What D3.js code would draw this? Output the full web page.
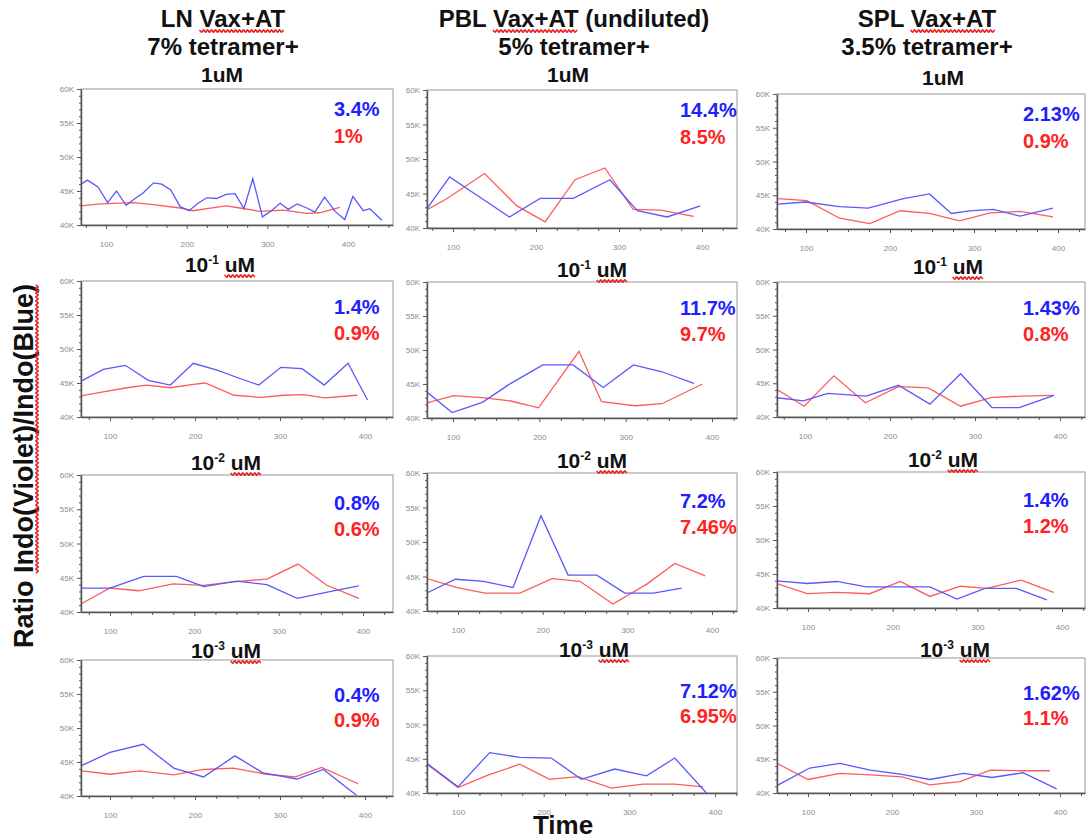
<!doctype html>
<html>
<head>
<meta charset="utf-8">
<script src="https://d3js.org/d3.v7.min.js"></script>
<style>
body{ margin:0; background:#fff; }
.ttl{ font-family: Arial, "Liberation Sans", sans-serif; font-weight:bold; fill:#111; }
.pct{ font-family: Arial, "Liberation Sans", sans-serif; font-weight:bold; font-size:20px; }
.axis text{ font-family: Arial, "Liberation Sans", sans-serif; font-size:8px; fill:#8a8a8a; }
.axis path, .axis line{ stroke:#555; }
</style>
</head>
<body>
<svg width="1091" height="840"></svg>
<script>
// ---- data (time, ratio in K) ----
var colTitles = ["LN Vax+AT", "PBL Vax+AT (undiluted)", "SPL Vax+AT"];
var colSubtitles = ["7% tetramer+", "5% tetramer+", "3.5% tetramer+"];
var doseExp = [0, -1, -2, -3];
var blueLabels = [["3.4%","14.4%","2.13%"],["1.4%","11.7%","1.43%"],["0.8%","7.2%","1.4%"],["0.4%","7.12%","1.62%"]];
var redLabels  = [["1%","8.5%","0.9%"],["0.9%","9.7%","0.8%"],["0.6%","7.46%","1.2%"],["0.9%","6.95%","1.1%"]];
var xTickValues = [100, 200, 300, 400];
var yTickValues = [40, 45, 50, 55, 60];

var ln_e0_blue = [[68,45.9],[77,46.6],[90,45.6],[102,43.3],[113,45.0],[125,42.9],[136,43.9],[146,44.7],[159,46.2],[169,46.0],[180,45.2],[192,42.7],[203,42.1],[214,43.2],[225,44.0],[237,43.9],[249,44.5],[260,44.6],[271,42.4],[282,46.8],[294,41.2],[305,42.1],[316,43.2],[326,42.3],[337,43.1],[349,42.5],[359,41.9],[371,44.1],[384,42.0],[396,40.8],[406,44.2],[419,42.1],[427,42.4],[442,40.7]];
var ln_e0_red = [[68,42.8],[93,43.1],[134,43.3],[159,43.0],[192,42.5],[208,42.1],[225,42.4],[249,42.8],[266,42.5],[291,42.0],[320,42.2],[349,41.7],[365,41.8],[390,42.6]];
var pbl_e0_blue = [[68,42.7],[96,47.4],[132,44.5],[168,41.6],[205,44.3],[245,44.3],[289,47.0],[322,42.5],[358,41.6],[398,43.2]];
var pbl_e0_red = [[68,42.6],[92,44.2],[138,47.9],[177,43.2],[211,40.9],[247,47.0],[283,48.7],[317,42.7],[350,42.6],[390,41.7]];
var spl_e0_blue = [[67,43.7],[99,44.0],[140,43.3],[174,43.1],[216,44.5],[247,45.2],[273,42.3],[295,42.7],[323,42.9],[355,41.9],[394,43.1]];
var spl_e0_red = [[67,44.5],[101,44.2],[140,41.6],[176,40.8],[212,42.7],[247,42.3],[283,41.2],[319,42.4],[355,42.6],[394,41.8]];

var ln_e1_blue = [[65,45.2],[92,47.0],[118,47.6],[145,45.4],[171,44.7],[198,47.9],[226,46.9],[252,45.7],[275,44.7],[301,47.3],[326,47.1],[352,44.7],[380,47.9],[403,42.5]];
var ln_e1_red = [[65,43.1],[92,43.7],[120,44.3],[143,44.7],[171,44.3],[198,44.8],[212,45.0],[246,43.2],[277,42.9],[305,43.2],[328,43.3],[352,42.8],[391,43.2]];
var pbl_e1_blue = [[66,44.2],[99,40.8],[134,42.3],[167,45.1],[204,47.8],[239,47.8],[274,44.5],[309,47.8],[342,46.8],[379,45.1]];
var pbl_e1_red = [[66,42.1],[101,43.3],[134,43.0],[167,42.5],[199,41.5],[246,49.8],[272,42.4],[311,41.8],[342,42.1],[389,45.0]];
var spl_e1_blue = [[64,42.9],[98,42.4],[127,43.5],[172,43.1],[210,44.7],[247,41.9],[283,46.4],[320,41.4],[352,41.4],[393,43.2]];
var spl_e1_red = [[64,44.3],[99,41.6],[134,46.1],[171,42.1],[210,44.5],[245,44.3],[283,41.6],[320,42.9],[355,43.1],[393,43.2]];

var ln_e2_blue = [[66,43.5],[100,43.5],[140,45.2],[179,45.2],[211,43.7],[250,44.5],[286,44.0],[322,42.0],[365,43.1],[395,43.8]];
var ln_e2_red = [[66,41.2],[100,43.5],[134,43.1],[175,44.1],[211,43.9],[246,44.4],[286,44.8],[323,47.0],[357,43.9],[395,42.0]];
var pbl_e2_blue = [[63,42.6],[97,44.6],[130,44.3],[165,43.4],[198,53.8],[230,45.2],[264,45.2],[297,42.6],[331,42.6],[364,43.3]];
var pbl_e2_red = [[63,44.7],[99,43.4],[132,42.6],[173,42.6],[211,44.7],[244,44.3],[283,41.0],[323,43.9],[356,46.9],[392,45.1]];
var spl_e2_blue = [[63,44.0],[99,43.6],[134,43.9],[169,43.1],[209,43.1],[244,43.1],[276,41.3],[309,42.9],[346,42.9],[382,41.2]];
var spl_e2_red = [[63,43.6],[99,42.1],[134,42.3],[173,42.1],[209,43.9],[244,41.7],[280,43.2],[311,42.9],[352,44.1],[390,42.3]];

var ln_e3_blue = [[67,44.5],[100,46.4],[139,47.6],[175,44.1],[210,42.8],[247,45.9],[280,43.4],[320,42.5],[351,43.9],[390,40.1]];
var ln_e3_red = [[67,43.7],[100,43.2],[135,43.7],[175,43.1],[210,43.9],[245,44.1],[284,43.2],[318,42.8],[349,44.2],[392,41.8]];
var pbl_e3_blue = [[64,44.3],[100,40.9],[137,45.9],[172,45.2],[209,45.1],[244,42.0],[283,43.5],[320,42.5],[353,45.1],[390,40.0]];
var pbl_e3_red = [[64,44.2],[100,40.8],[135,42.6],[172,44.2],[207,42.0],[240,42.4],[279,40.7],[316,41.3],[353,41.3],[386,40.9]];
var spl_e3_blue = [[63,41.1],[102,43.7],[138,44.4],[174,43.4],[210,42.8],[245,42.0],[285,42.9],[319,42.3],[356,43.0],[396,40.6]];
var spl_e3_red = [[63,44.4],[100,42.0],[138,42.9],[174,42.7],[212,42.4],[245,41.2],[281,41.7],[317,43.4],[352,43.3],[388,43.3]];

var seriesGrid = [
  [[ln_e0_blue, ln_e0_red], [pbl_e0_blue, pbl_e0_red], [spl_e0_blue, spl_e0_red]],
  [[ln_e1_blue, ln_e1_red], [pbl_e1_blue, pbl_e1_red], [spl_e1_blue, spl_e1_red]],
  [[ln_e2_blue, ln_e2_red], [pbl_e2_blue, pbl_e2_red], [spl_e2_blue, spl_e2_red]],
  [[ln_e3_blue, ln_e3_red], [pbl_e3_blue, pbl_e3_red], [spl_e3_blue, spl_e3_red]]
];

// ---- layout (pasted panels are not all the same size) ----
var colLeft = [81, 427, 777], colRight = [393, 737, 1085];
var rowTop = [[89,90,94],[281,282,282],[475,473,472],[660,656,658]];
var rowBottom = [[225,228,229],[417,418,417],[612,611,608],[796,793,793]];
var tickPx = [[[106,348],[453,702],[806,1058]],
              [[110,365],[453,712],[805,1060]],
              [[110,363],[458,712],[808,1062]],
              [[110,365],[458,715],[808,1060]]];
var pctX = [334, 680, 1023];
var pctDy = [[27,54],[33,59],[35,61],[42,67]];
var doseCx = [[222,568,943],[220,592,948],[226,592,943],[226,594,955]];
var doseY = [[82,82,85],[272,277,274],[470,468,467],[658,657,657]];
var titleCx = [223, 574, 927];

var blueLine = "#5858ff", redLine = "#ff5a5a";
var bluePct = "#2020ff", redPct = "#ff2222";

var svg = d3.select("svg");

function wavy(g, x0, x1, y) {
  var pts = [], i = 0;
  for (var x = x0; x <= x1; x += 2, i++) pts.push([x, y + (i % 2 ? 1.2 : -1.2)]);
  g.append("path")
    .attr("d", d3.line().curve(d3.curveCardinal)(pts))
    .attr("fill", "none").attr("stroke", "#e82222").attr("stroke-width", 1.6);
}

// column headers
colTitles.forEach(function(t, c) {
  var t1 = svg.append("text").attr("class", "ttl").attr("font-size", "24px")
    .attr("text-anchor", "middle").attr("x", titleCx[c]).attr("y", 27).text(t);
  var n = t1.node(), i0 = t.indexOf("Vax+AT");
  wavy(svg, n.getStartPositionOfChar(i0).x, n.getEndPositionOfChar(i0 + 5).x, 31);
  svg.append("text").attr("class", "ttl").attr("font-size", "24px")
    .attr("text-anchor", "middle").attr("x", titleCx[c]).attr("y", 55).text(colSubtitles[c]);
});

// panels
seriesGrid.forEach(function(row, r) {
  row.forEach(function(pair, c) {
    var left = colLeft[c], right = colRight[c];
    var top = rowTop[r][c], bottom = rowBottom[r][c];
    var p = tickPx[r][c], k = (p[1] - p[0]) / 300;
    var x = d3.scaleLinear().domain([100 - (p[0] - left) / k, 100 + (right - p[0]) / k]).range([left, right]);
    var y = d3.scaleLinear().domain([40, 60]).range([bottom, top]);
    var g = svg.append("g");
    var id = "clip" + r + c;

    g.append("clipPath").attr("id", id).append("rect")
      .attr("x", left).attr("y", top).attr("width", right - left).attr("height", bottom - top);

    g.append("rect").attr("x", left).attr("y", top)
      .attr("width", right - left).attr("height", bottom - top)
      .attr("fill", "#fff").attr("stroke", "#a8a8a8").attr("stroke-width", 1.2);

    var line = d3.line().x(function(d) { return x(d[0]); }).y(function(d) { return y(d[1]); });
    g.append("path").datum(pair[1]).attr("d", line).attr("clip-path", "url(#" + id + ")")
      .attr("fill", "none").attr("stroke", redLine).attr("stroke-width", 1.3);
    g.append("path").datum(pair[0]).attr("d", line).attr("clip-path", "url(#" + id + ")")
      .attr("fill", "none").attr("stroke", blueLine).attr("stroke-width", 1.3);

    // minor ticks
    var xd = x.domain();
    var xMinor = d3.range(25, 500, 25).filter(function(v) { return v % 100 && v > xd[0] && v < xd[1]; });
    g.append("g").attr("class", "axis").attr("transform", "translate(0," + bottom + ")")
      .call(d3.axisBottom(x).tickValues(xMinor).tickSize(3).tickSizeOuter(0).tickFormat(""))
      .call(function(a) { a.select(".domain").remove(); });
    var yMinor = d3.range(41, 60, 1).filter(function(v) { return v % 5; });
    g.append("g").attr("class", "axis").attr("transform", "translate(" + left + ",0)")
      .call(d3.axisLeft(y).tickValues(yMinor).tickSize(2).tickSizeOuter(0).tickFormat(""))
      .call(function(a) { a.select(".domain").remove(); });

    g.append("g").attr("class", "axis").attr("transform", "translate(0," + bottom + ")")
      .call(d3.axisBottom(x).tickValues(xTickValues).tickSize(4).tickSizeOuter(0).tickPadding(12))
      .call(function(a) { a.select(".domain").attr("stroke-width", 1.5); });
    g.append("g").attr("class", "axis").attr("transform", "translate(" + left + ",0)")
      .call(d3.axisLeft(y).tickValues(yTickValues).tickSize(4).tickSizeOuter(0).tickPadding(3)
        .tickFormat(function(d) { return d + "K"; }))
      .call(function(a) { a.select(".domain").attr("stroke-width", 1.5); });

    // percentages
    g.append("text").attr("class", "pct").attr("x", pctX[c]).attr("y", top + pctDy[r][0])
      .attr("fill", bluePct).text(blueLabels[r][c]);
    g.append("text").attr("class", "pct").attr("x", pctX[c]).attr("y", top + pctDy[r][1])
      .attr("fill", redPct).text(redLabels[r][c]);

    // dose title
    var dt = svg.append("text").attr("class", "ttl").attr("font-size", "21px")
      .attr("text-anchor", "middle").attr("x", doseCx[r][c]).attr("y", doseY[r][c]);
    if (doseExp[r] === 0) {
      dt.text("1uM");
    } else {
      dt.append("tspan").text("10");
      dt.append("tspan").attr("font-size", "12px").attr("dy", -8).text(String(doseExp[r]));
      dt.append("tspan").attr("dy", 8).text(" uM");
      var dn = dt.node();
      wavy(svg, dn.getStartPositionOfChar(5).x, dn.getEndPositionOfChar(6).x, doseY[r][c] + 4);
    }
  });
});

// axis titles
var yl = svg.append("g").attr("transform", "translate(33,466) rotate(-90)");
var ylt = yl.append("text").attr("class", "ttl").attr("font-size", "27px")
  .attr("text-anchor", "middle").text("Ratio Indo(Violet)/Indo(Blue)");
var yn = ylt.node();
wavy(yl, yn.getStartPositionOfChar(6).x, yn.getEndPositionOfChar(28).x, 4);

svg.append("text").attr("class", "ttl").attr("font-size", "26px")
  .attr("text-anchor", "middle").attr("x", 563).attr("y", 834).text("Time");
</script>
</body>
</html>
